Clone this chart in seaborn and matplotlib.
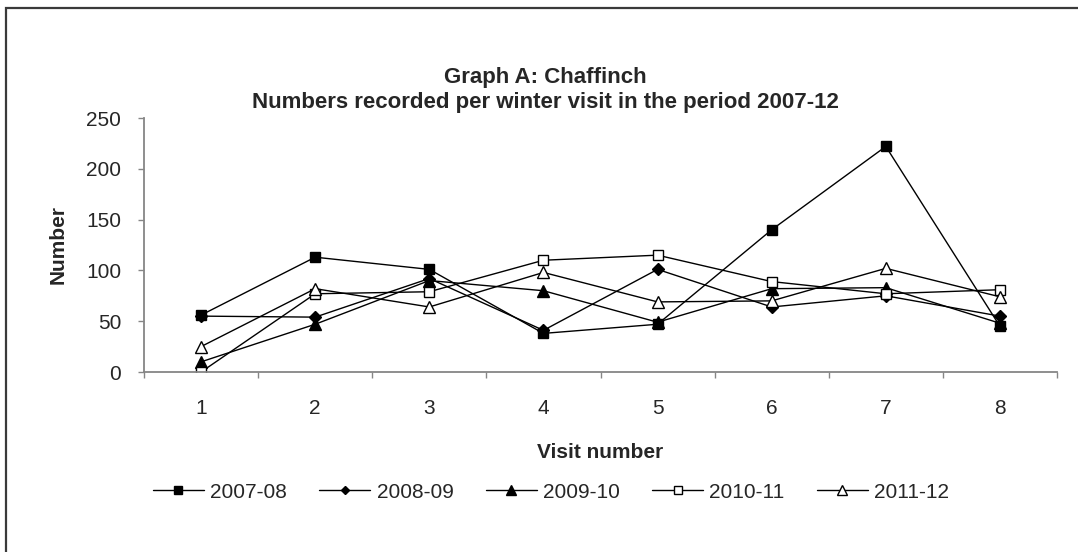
import matplotlib
matplotlib.use("Agg")
import matplotlib.pyplot as plt
from matplotlib.patches import Rectangle
from matplotlib.ticker import FixedLocator, NullFormatter, FixedFormatter
import seaborn as sns
import pandas as pd

# Chaffinch counts per winter visit
visits = [1, 2, 3, 4, 5, 6, 7, 8]
seasons = ["2007-08", "2008-09", "2009-10", "2010-11", "2011-12"]
counts_2007_08 = [56, 113, 101, 38, 47, 140, 222, 45]
counts_2008_09 = [55, 54, 92, 41, 101, 64, 75, 55]
counts_2009_10 = [10, 47, 90, 80, 49, 82, 83, 48]
counts_2010_11 = [0, 77, 79, 110, 115, 89, 77, 81]
counts_2011_12 = [25, 82, 64, 98, 69, 70, 102, 74]
y_ticks = [0, 50, 100, 150, 200, 250]

series = [counts_2007_08, counts_2008_09, counts_2009_10, counts_2010_11, counts_2011_12]
df = pd.DataFrame({
    "Visit": visits * len(seasons),
    "Number": [v for s in series for v in s],
    "Season": [name for name in seasons for _ in visits],
})

sns.set_theme(style="white")
plt.rcParams["font.family"] = ["Liberation Sans", "DejaVu Sans"]

# marker, face colour, size for each season
styles = {
    "2007-08": ("s", "black", 7.8),
    "2008-09": ("D", "black", 5.8),
    "2009-10": ("^", "black", 8.8),
    "2010-11": ("s", "white", 7.8),
    "2011-12": ("^", "white", 8.8),
}

fig = plt.figure(figsize=(10.78, 5.52), dpi=100)
ax = fig.add_axes([144 / 1078, 1 - 372 / 552, 913 / 1078, 254 / 552])

for name in seasons:
    marker, face, ms = styles[name]
    sns.lineplot(data=df[df["Season"] == name], x="Visit", y="Number",
                 ax=ax, color="black", linewidth=1.0, marker=marker,
                 markersize=ms, markerfacecolor=face, markeredgecolor="black",
                 markeredgewidth=1.0, label=name, legend=False)

ax.set_xlim(0.5, 8.5)
ax.set_ylim(0, 250)

# category boundaries carry the tick marks, visit numbers carry the labels
ax.xaxis.set_major_locator(FixedLocator([v - 0.5 for v in visits] + [visits[-1] + 0.5]))
ax.xaxis.set_major_formatter(NullFormatter())
ax.xaxis.set_minor_locator(FixedLocator(visits))
ax.xaxis.set_minor_formatter(FixedFormatter([str(v) for v in visits]))
ax.tick_params(axis="x", which="major", direction="out", length=4.5, width=1,
               color="#868686", bottom=True)
ax.tick_params(axis="x", which="minor", length=0, pad=19.5, labelsize=15)
ax.set_yticks(y_ticks)
ax.tick_params(axis="y", direction="out", length=4.5, width=1, color="#868686",
               left=True, pad=12, labelsize=15)

for side in ["top", "right"]:
    ax.spines[side].set_visible(False)
for side in ["left", "bottom"]:
    ax.spines[side].set_color("#868686")
    ax.spines[side].set_linewidth(1.3)

ax.set_xlabel("Visit number", fontsize=15, fontweight="bold", va="center")
ax.xaxis.set_label_coords(0.5, (372 - 452) / 254)
ax.set_ylabel("Number", fontsize=15, fontweight="bold", va="center")
ax.yaxis.set_label_coords((58 - 144) / 913, 0.5)

fig.text(545 / 1078, 1 - 90 / 552,
         "Graph A: Chaffinch\nNumbers recorded per winter visit in the period 2007-12",
         ha="center", va="center", fontsize=16, fontweight="bold", linespacing=1.3)

handles, labels = ax.get_legend_handles_labels()
fig.legend(handles, labels, ncol=5, loc="center",
           bbox_to_anchor=(551 / 1078, 1 - 492 / 552), frameon=False,
           fontsize=15, handlelength=2.45, handletextpad=0.3, columnspacing=1.55,
           markerscale=0.75)

# chart frame
fig.patches.append(Rectangle((6 / 1078, -0.1), 1.2, 1.1 - 8 / 552,
                             transform=fig.transFigure, fill=False,
                             edgecolor="#3a3a3a", linewidth=1.6))

fig.savefig("out.png", dpi=100, facecolor="white")
